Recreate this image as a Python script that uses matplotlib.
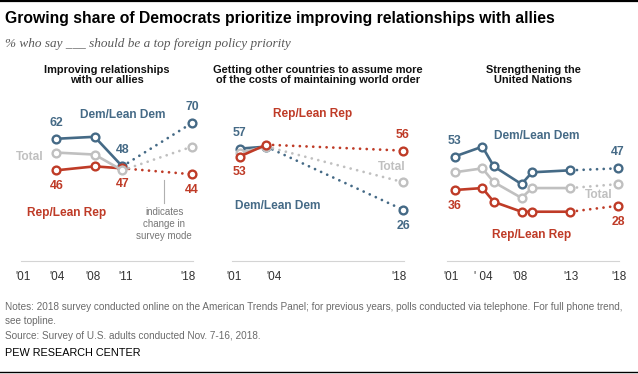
import numpy as np
import matplotlib
matplotlib.use("Agg")
import matplotlib.pyplot as plt
from matplotlib import font_manager
from matplotlib.lines import Line2D

# fonts
names = {f.name for f in font_manager.fontManager.ttflist}
NARROW = "Liberation Sans Narrow" if "Liberation Sans Narrow" in names else "Liberation Sans"
SANS = "Liberation Sans"
SERIF = "Liberation Serif"

DEM = "#456a86"
REP = "#bf3b27"
TOT = "#c0c0c0"

title = "Growing share of Democrats prioritize improving relationships with allies"
subtitle = "% who say ___ should be a top foreign policy priority"

# panel 1: improving relationships with allies
allies_years = [2004.7, 2008.7, 2011.6, 2018.9]
allies_dem = [62, 63, 48, 70]
allies_tot = [55, 54, 46, 58]
allies_rep = [46, 48, 47, 44]

# panel 2: other countries assume more of the costs
costs_years = [2001.8, 2004.6, 2018.9]
costs_dem = [57, 58, 26]
costs_tot = [55, 58, 40]
costs_rep = [53, 59, 56]

# panel 3: strengthening the UN
un_years = [2001.8, 2004.7, 2005.9, 2008.8, 2009.9, 2013.9, 2018.9]
un_dem = [53, 58, 48, 39, 45, 46, 47]
un_tot = [45, 47, 40, 32, 37, 37, 39]
un_rep = [36, 37, 30, 25, 25, 25, 28]

headers = ["Improving relationships\nwith our allies",
           "Getting other countries to assume more\nof the costs of maintaining world order",
           "Strengthening the\nUnited Nations"]
tick_pos = [[2001.2, 2004.8, 2008.5, 2011.9, 2018.5],
            [2001.2, 2005.4, 2018.5],
            [2001.4, 2004.8, 2008.6, 2014.0, 2019.0]]
tick_lab = [["'01", "'04", "'08", "'11", "'18"],
            ["'01", "'04", "'18"],
            ["'01", "' 04", "'08", "'13", "'18"]]

W, H = 638, 374
fig = plt.figure(figsize=(W / 100, H / 100), dpi=100)

lefts = [21, 232, 447]
axes = []
for i, l in enumerate(lefts):
    ax = fig.add_axes([l / W, 1 - 261 / H, 172 / W, 138 / H])
    ax.set_xlim(2001, 2019)
    ax.set_ylim(0, 70)
    for s in ["top", "right", "left"]:
        ax.spines[s].set_visible(False)
    ax.spines["bottom"].set_color("#d4d4d4")
    ax.spines["bottom"].set_linewidth(0.8)
    ax.set_yticks([])
    ax.set_xticks(tick_pos[i])
    ax.set_xticklabels(tick_lab[i], fontsize=8.5, family=SANS, color="#333333")
    ax.tick_params(axis="x", length=0, pad=7)
    ax.patch.set_alpha(0)
    fig.text((l + 86) / W, 1 - 65 / H, headers[i], ha="center", va="top",
             fontsize=7.9, fontweight="bold", family=SANS, color="#111111",
             linespacing=1.05)
    axes.append(ax)

dot = (0, (0.01, 2.4))


def series(ax, x, y, color, z):
    x = np.array(x)
    y = np.array(y)
    ax.plot(x[:-1], y[:-1], color=color, lw=1.9, zorder=z, solid_capstyle="round",
            clip_on=False)
    ax.plot(x[-2:], y[-2:], color=color, lw=2.0, ls=dot, dash_capstyle="round",
            zorder=z, clip_on=False)
    ax.plot(x, y, ls="none", marker="o", ms=5.6, mew=1.7, mfc="white", mec=color,
            zorder=z + 0.5, clip_on=False)


def val(ax, x, y, txt, color, up=True):
    ax.annotate(txt, (x, y), xytext=(0, 11.5 if up else -11.5), textcoords="offset points",
                ha="center", va="center", fontsize=8.8, fontweight="bold",
                family=SANS, color=color)


def lab(ax, x, y, txt, color):
    ax.text(x, y, txt, ha="center", va="center", fontsize=8.6, fontweight="bold",
            family=SANS, color=color)


# panel 1
ax = axes[0]
series(ax, allies_years, allies_dem, DEM, 3)
series(ax, allies_years, allies_rep, REP, 4)
series(ax, allies_years, allies_tot, TOT, 5)
val(ax, allies_years[0], allies_dem[0], str(allies_dem[0]), DEM)
val(ax, allies_years[2], allies_dem[2], str(allies_dem[2]), DEM)
val(ax, allies_years[3], allies_dem[3], str(allies_dem[3]), DEM)
val(ax, allies_years[0], allies_rep[0], str(allies_rep[0]), REP, up=False)
val(ax, allies_years[2], allies_rep[2], str(allies_rep[2]), REP, up=False)
val(ax, allies_years[3], allies_rep[3], str(allies_rep[3]), REP, up=False)
lab(ax, 2011.7, 74.1, "Dem/Lean Dem", DEM)
lab(ax, 2001.9, 52.7, "Total", TOT)
lab(ax, 2005.8, 24.6, "Rep/Lean Rep", REP)
ax.plot([2016.0, 2016.0], [40.9, 29.2], color="#b0b0b0", lw=0.8)
ax.text(2016.0, 27.3, "indicates\nchange in\nsurvey mode", ha="center", va="top",
        fontsize=7, family=NARROW, color="#777777", linespacing=1.25)

# panel 2
ax = axes[1]
series(ax, costs_years, costs_dem, DEM, 3)
series(ax, costs_years, costs_tot, TOT, 4)
series(ax, costs_years, costs_rep, REP, 5)
val(ax, costs_years[0], costs_dem[0], str(costs_dem[0]), DEM)
val(ax, costs_years[0], costs_rep[0], str(costs_rep[0]), REP, up=False)
val(ax, costs_years[2], costs_rep[2], str(costs_rep[2]), REP)
val(ax, costs_years[2], costs_dem[2], str(costs_dem[2]), DEM, up=False)
lab(ax, 2009.4, 74.6, "Rep/Lean Rep", REP)
lab(ax, 2017.7, 47.6, "Total", TOT)
lab(ax, 2005.8, 27.7, "Dem/Lean Dem", DEM)

# panel 3
ax = axes[2]
series(ax, un_years, un_dem, DEM, 3)
series(ax, un_years, un_tot, TOT, 4)
series(ax, un_years, un_rep, REP, 5)
val(ax, un_years[0], un_dem[0], str(un_dem[0]), DEM)
val(ax, un_years[-1], un_dem[-1], str(un_dem[-1]), DEM)
val(ax, un_years[0], un_rep[0], str(un_rep[0]), REP, up=False)
val(ax, un_years[-1], un_rep[-1], str(un_rep[-1]), REP, up=False)
lab(ax, 2010.4, 63.4, "Dem/Lean Dem", DEM)
lab(ax, 2016.9, 33.3, "Total", TOT)
lab(ax, 2009.9, 13.4, "Rep/Lean Rep", REP)

# title block
fig.text(5 / W, 1 - 18 / H, title, ha="left", va="center", fontsize=11.3,
         fontweight="bold", family=NARROW, color="#000000")
fig.text(5 / W, 1 - 44 / H, subtitle, ha="left", va="center", fontsize=9.5,
         style="italic", family=SERIF, color="#595959")

notes = ("Notes: 2018 survey conducted online on the American Trends Panel; for previous years, "
         "polls conducted via telephone. For full phone trend,\nsee topline.\n"
         "Source: Survey of U.S. adults conducted Nov. 7-16, 2018.")
fig.text(5 / W, 1 - 302 / H, notes, ha="left", va="top", fontsize=7.2, family=NARROW,
         color="#6b6b6b", linespacing=1.55)
fig.text(5 / W, 1 - 353 / H, "PEW RESEARCH CENTER", ha="left", va="center",
         fontsize=7.8, family=NARROW, color="#000000")

fig.add_artist(Line2D([0, 1], [1 - 0.8 / H, 1 - 0.8 / H], color="black", lw=1.6))
fig.add_artist(Line2D([0, 1], [1 - 372 / H, 1 - 372 / H], color="black", lw=1.0))

fig.savefig("out.png", dpi=100)
